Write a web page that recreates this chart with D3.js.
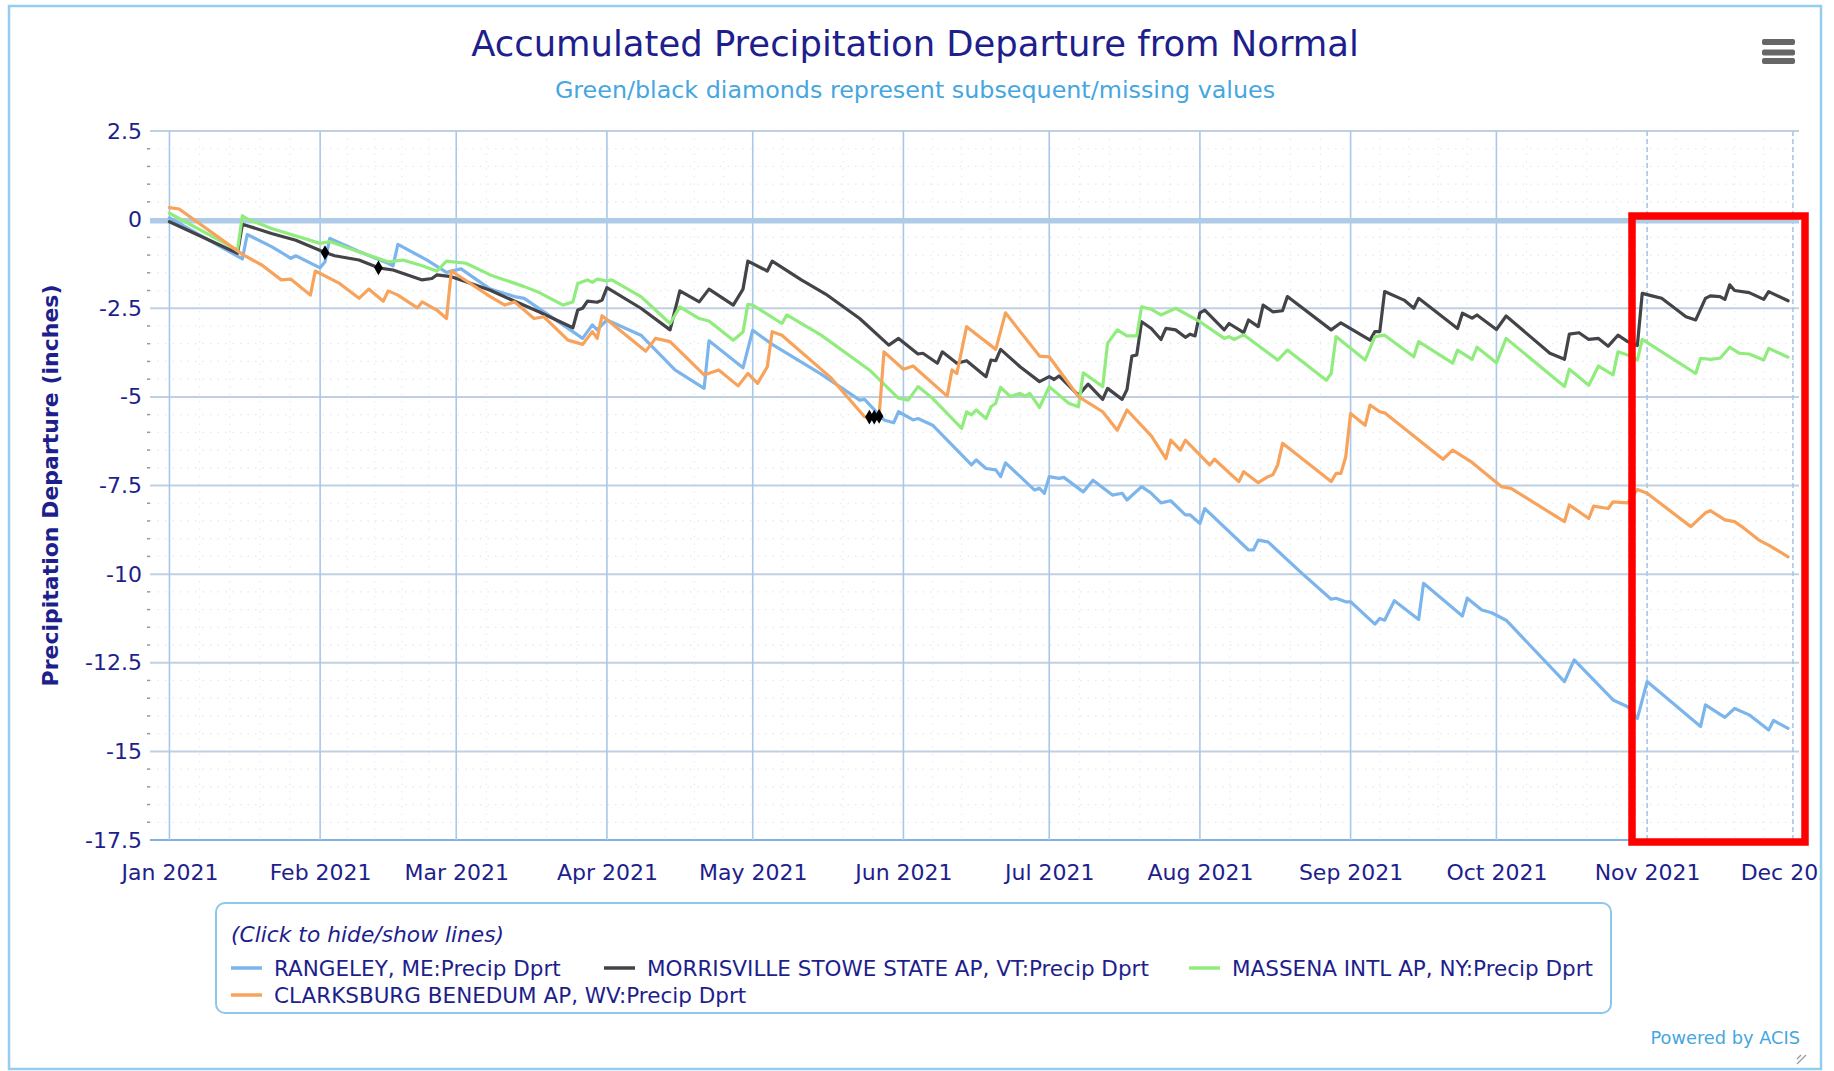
<!DOCTYPE html>
<html>
<head>
<meta charset="utf-8">
<script src="https://cdn.jsdelivr.net/npm/d3@7"></script>
<style>
  html, body { margin: 0; padding: 0; background: #fff; }
  svg { display: block; font-family: "DejaVu Sans", Verdana, sans-serif; }
</style>
</head>
<body>
<div id="chart"></div>
<script>
// day offsets from Jan 1 2021 and departure (inches)
const rangeley = [[0,0.05],[15,-1.11],[16,-0.42],[21,-0.76],[25,-1.09],[26,-1.02],[31,-1.36],[32,-1.19],[33,-0.53],[39,-0.9],[45,-1.23],[46,-1.3],[47,-0.7],[53,-1.14],[57,-1.49],[58,-1.45],[60,-1.39],[66,-1.96],[71,-2.17],[73,-2.22],[85,-3.35],[87,-2.97],[88,-3.11],[90,-2.83],[97,-3.26],[104,-4.24],[110,-4.76],[111,-3.42],[118,-4.18],[120,-3.12],[124,-3.52],[134,-4.35],[142,-5.09],[143,-5.07],[147,-5.65],[149,-5.73],[150,-5.42],[153,-5.65],[154,-5.61],[157,-5.8],[165,-6.92],[166,-6.78],[168,-7.02],[170,-7.06],[171,-7.25],[172,-6.86],[178,-7.63],[179,-7.58],[180,-7.72],[181,-7.25],[183,-7.3],[184,-7.27],[188,-7.68],[190,-7.35],[194,-7.77],[196,-7.72],[197,-7.91],[200,-7.53],[202,-7.72],[204,-7.99],[206,-7.93],[209,-8.33],[210,-8.33],[212,-8.57],[213,-8.15],[222,-9.32],[223,-9.32],[224,-9.04],[226,-9.09],[233,-9.98],[239,-10.71],[240,-10.68],[242,-10.78],[243,-10.78],[248,-11.41],[249,-11.25],[250,-11.3],[252,-10.75],[257,-11.28],[258,-10.26],[266,-11.18],[267,-10.68],[270,-11.01],[272,-11.09],[275,-11.3],[287,-13.03],[289,-12.42],[297,-13.55],[300,-13.74],[302,-14.07],[304,-13.03],[315,-14.3],[316,-13.69],[320,-14.04],[322,-13.79],[325,-13.97],[329,-14.4],[330,-14.13],[333,-14.35]];

const morrisville = [[0,-0.06],[14,-0.95],[15,-0.13],[21,-0.39],[26,-0.58],[32,-0.93],[34,-1.02],[39,-1.14],[43,-1.36],[46,-1.42],[52,-1.7],[54,-1.66],[55,-1.56],[58,-1.61],[61,-1.75],[66,-1.99],[70,-2.24],[76,-2.6],[83,-3.05],[84,-2.55],[85,-2.5],[86,-2.3],[88,-2.33],[89,-2.27],[90,-1.92],[97,-2.5],[103,-3.11],[105,-2.01],[109,-2.32],[111,-1.96],[116,-2.41],[118,-1.96],[119,-1.17],[123,-1.45],[124,-1.17],[130,-1.7],[135,-2.1],[141,-2.69],[142,-2.79],[148,-3.54],[150,-3.35],[154,-3.79],[155,-3.77],[158,-4.05],[159,-3.73],[162,-4.05],[164,-3.98],[168,-4.43],[169,-3.96],[170,-3.98],[171,-3.66],[175,-4.15],[179,-4.57],[181,-4.43],[182,-4.51],[183,-4.41],[187,-4.95],[189,-4.64],[192,-5.07],[193,-4.76],[196,-5.07],[197,-4.79],[198,-3.85],[199,-3.82],[200,-2.88],[202,-3.07],[204,-3.38],[205,-3.07],[207,-3.11],[209,-3.32],[210,-3.23],[211,-3.28],[212,-2.63],[213,-2.55],[217,-3.11],[218,-2.93],[221,-3.19],[222,-2.83],[224,-3.02],[225,-2.41],[227,-2.6],[229,-2.57],[230,-2.17],[239,-3.11],[241,-2.91],[247,-3.4],[248,-3.16],[249,-3.16],[250,-2.03],[254,-2.27],[256,-2.5],[257,-2.22],[265,-3.07],[266,-2.64],[268,-2.78],[269,-2.69],[273,-3.1],[275,-2.72],[284,-3.77],[287,-3.94],[288,-3.23],[290,-3.19],[292,-3.38],[294,-3.35],[296,-3.57],[298,-3.26],[300,-3.44],[302,-3.55],[303,-2.08],[305,-2.15],[307,-2.22],[312,-2.74],[314,-2.83],[316,-2.22],[317,-2.15],[319,-2.17],[320,-2.25],[321,-1.84],[322,-2.0],[325,-2.06],[328,-2.25],[329,-2.03],[333,-2.29]];

const massena = [[0,0.18],[14,-0.86],[15,0.11],[16,0.02],[21,-0.25],[31,-0.67],[33,-0.62],[39,-0.91],[45,-1.19],[48,-1.14],[52,-1.3],[55,-1.45],[57,-1.17],[61,-1.23],[66,-1.56],[69,-1.7],[73,-1.89],[76,-2.05],[81,-2.41],[83,-2.32],[84,-1.8],[86,-1.7],[87,-1.77],[88,-1.68],[90,-1.73],[91,-1.7],[97,-2.17],[103,-2.93],[105,-2.46],[109,-2.79],[111,-2.86],[116,-3.4],[118,-3.17],[119,-2.39],[120,-2.41],[126,-2.93],[127,-2.69],[134,-3.25],[144,-4.24],[150,-5.04],[152,-5.09],[154,-4.71],[157,-5.04],[163,-5.89],[164,-5.42],[165,-5.51],[166,-5.37],[168,-5.61],[169,-5.28],[170,-5.18],[171,-4.73],[173,-4.99],[175,-4.9],[176,-4.98],[177,-4.9],[179,-5.3],[181,-4.71],[185,-5.18],[187,-5.28],[188,-4.32],[192,-4.71],[193,-3.49],[195,-3.11],[197,-3.28],[199,-3.28],[200,-2.46],[202,-2.53],[204,-2.69],[207,-2.5],[212,-2.88],[217,-3.35],[218,-3.3],[219,-3.38],[221,-3.25],[228,-3.96],[230,-3.68],[238,-4.53],[239,-4.34],[240,-3.3],[246,-3.96],[248,-3.3],[250,-3.26],[256,-3.87],[257,-3.44],[264,-4.05],[265,-3.68],[268,-3.94],[269,-3.6],[273,-4.04],[275,-3.35],[287,-4.71],[288,-4.22],[292,-4.67],[294,-4.13],[297,-4.38],[298,-3.73],[300,-3.82],[302,-3.96],[303,-3.38],[314,-4.34],[315,-3.91],[317,-3.94],[319,-3.91],[321,-3.6],[323,-3.77],[325,-3.79],[328,-3.96],[329,-3.63],[333,-3.88]];

const clarksburg = [[0,0.34],[2,0.3],[15,-0.98],[19,-1.28],[23,-1.7],[25,-1.68],[29,-2.13],[30,-1.45],[35,-1.8],[39,-2.22],[41,-1.96],[44,-2.3],[45,-2.01],[47,-2.13],[51,-2.49],[52,-2.32],[55,-2.55],[57,-2.79],[58,-1.45],[66,-2.17],[69,-2.41],[71,-2.32],[75,-2.79],[77,-2.74],[82,-3.4],[85,-3.52],[87,-3.16],[88,-3.35],[89,-2.71],[98,-3.71],[100,-3.35],[103,-3.44],[110,-4.38],[113,-4.24],[117,-4.69],[119,-4.34],[121,-4.62],[123,-4.15],[124,-3.16],[126,-3.26],[136,-4.45],[143,-5.56],[144,-5.57],[145,-5.57],[146,-5.55],[147,-3.73],[151,-4.22],[153,-4.13],[160,-4.98],[161,-4.24],[162,-4.34],[164,-3.02],[170,-3.66],[172,-2.63],[179,-3.85],[181,-3.87],[187,-4.99],[192,-5.42],[195,-5.94],[197,-5.37],[202,-6.1],[205,-6.74],[206,-6.22],[208,-6.5],[209,-6.22],[214,-6.92],[215,-6.76],[220,-7.39],[221,-7.11],[224,-7.42],[226,-7.25],[227,-7.2],[228,-6.92],[229,-6.31],[239,-7.39],[240,-7.16],[241,-7.16],[242,-6.69],[243,-5.47],[246,-5.8],[247,-5.23],[249,-5.42],[250,-5.45],[262,-6.76],[264,-6.5],[268,-6.85],[274,-7.53],[276,-7.58],[287,-8.52],[288,-8.05],[292,-8.43],[293,-8.08],[296,-8.15],[297,-7.96],[300,-7.99],[302,-7.61],[304,-7.72],[313,-8.66],[316,-8.27],[317,-8.21],[320,-8.47],[322,-8.52],[324,-8.71],[327,-9.04],[329,-9.18],[333,-9.51]];

// black diamonds (missing values)
const missingMorrisville = [[32,-0.93],[43,-1.36]];
const missingClarksburg = [[144,-5.57],[145,-5.57],[146,-5.55]];

const yTicks = [2.5, 0, -2.5, -5, -7.5, -10, -12.5, -15, -17.5];
const monthLabels = ["Jan 2021","Feb 2021","Mar 2021","Apr 2021","May 2021","Jun 2021","Jul 2021","Aug 2021","Sep 2021","Oct 2021","Nov 2021","Dec 2021"];

const seriesList = [
  { name: "RANGELEY, ME:Precip Dprt", color: "#7cb5ec", data: rangeley },
  { name: "MORRISVILLE STOWE STATE AP, VT:Precip Dprt", color: "#434348", data: morrisville },
  { name: "MASSENA INTL AP, NY:Precip Dprt", color: "#90ed7d", data: massena },
  { name: "CLARKSBURG BENEDUM AP, WV:Precip Dprt", color: "#f7a35c", data: clarksburg }
];

const width = 1834, height = 1071;
const navy = "#1e1e8c";
const jan1 = new Date(2021, 0, 1);
const toDate = d => d3.timeDay.offset(jan1, d);

const svg = d3.select("#chart").append("svg")
    .attr("width", width)
    .attr("height", height);

svg.append("rect").attr("width", width).attr("height", height).attr("fill", "#fff");

// clip everything at the chart container edge
svg.append("clipPath").attr("id", "frame")
    .append("rect").attr("x", 9).attr("y", 6).attr("width", 1812).attr("height", 1063);
const root = svg.append("g").attr("clip-path", "url(#frame)");

// plot area
const plotLeft = 150, plotRight = 1799, plotTop = 131, plotBottom = 840;
const x = d3.scaleTime()
    .domain([new Date(2020, 11, 28), new Date(2021, 11, 2, 6)])
    .range([plotLeft, plotRight]);
const y = d3.scaleLinear()
    .domain([-17.5, 2.5])
    .range([plotBottom, plotTop]);

const months = monthLabels.map((m, i) => new Date(2021, i, 1));

// minor dotted grid
const minorY = d3.range(-17.5, 2.5, 0.5).filter(v => Math.abs(v % 2.5) > 0.01);
root.append("g").selectAll("line").data(minorY).join("line")
    .attr("x1", plotLeft).attr("x2", plotRight)
    .attr("y1", d => y(d)).attr("y2", d => y(d))
    .attr("stroke", "#e2e9f1").attr("stroke-width", 1.2)
    .attr("stroke-dasharray", "1.5,6");
const minorX = [];
months.forEach((m, i) => {
  const next = i < 11 ? months[i + 1] : new Date(2022, 0, 1);
  const span = (next - m) / 5;
  for (let k = 1; k < 5; k++) minorX.push(new Date(+m + span * k));
});
root.append("g").selectAll("line").data(minorX.filter(d => x(d) > plotLeft && x(d) < plotRight)).join("line")
    .attr("x1", d => x(d)).attr("x2", d => x(d))
    .attr("y1", plotTop).attr("y2", plotBottom)
    .attr("stroke", "#e6ecf3").attr("stroke-width", 1.2)
    .attr("stroke-dasharray", "1.5,6");

// y minor tick marks
root.append("g").selectAll("line").data(minorY).join("line")
    .attr("x1", plotLeft - 3).attr("x2", plotLeft)
    .attr("y1", d => y(d)).attr("y2", d => y(d))
    .attr("stroke", "#999").attr("stroke-width", 1.5);

// major horizontal grid
root.append("g").selectAll("line").data(yTicks).join("line")
    .attr("x1", plotLeft).attr("x2", plotRight)
    .attr("y1", d => y(d)).attr("y2", d => y(d))
    .attr("stroke", d => d === -17.5 ? "#7fb3e4" : "#bfd0e3")
    .attr("stroke-width", 2);

// month grid
root.append("g").selectAll("line").data(months).join("line")
    .attr("x1", d => x(d)).attr("x2", d => x(d))
    .attr("y1", plotTop).attr("y2", plotBottom)
    .attr("stroke", "#a9c7e8").attr("stroke-width", 1.6)
    .attr("stroke-dasharray", (d, i) => i >= 10 ? "5,3" : null);

// zero plot line
root.append("line")
    .attr("x1", plotLeft).attr("x2", plotRight)
    .attr("y1", y(0) + 1).attr("y2", y(0) + 1)
    .attr("stroke", "#aecbe8").attr("stroke-width", 5.5);

// axes
const yAxis = root.append("g")
    .attr("transform", `translate(${plotLeft},0)`)
    .call(d3.axisLeft(y).tickValues(yTicks).tickSize(0).tickPadding(8)
        .tickFormat(d => String(d)));
yAxis.select(".domain").remove();
yAxis.selectAll("text").attr("fill", navy).style("font-size", "22px")
    .attr("font-family", "DejaVu Sans, sans-serif");

const xAxis = root.append("g")
    .attr("transform", `translate(0,${plotBottom})`)
    .call(d3.axisBottom(x).tickValues(months).tickSize(0).tickPadding(24)
        .tickFormat((d, i) => monthLabels[i]));
xAxis.select(".domain").remove();
xAxis.selectAll("text").attr("fill", navy).style("font-size", "22px")
    .attr("font-family", "DejaVu Sans, sans-serif");

// y axis title
root.append("text")
    .attr("transform", `translate(58,${(plotTop + plotBottom) / 2}) rotate(-90)`)
    .attr("text-anchor", "middle")
    .attr("fill", navy)
    .attr("font-weight", "bold")
    .style("font-size", "22px")
    .text("Precipitation Departure (inches)");

// series lines
const line = d3.line()
    .x(d => x(toDate(d[0])))
    .y(d => y(d[1]));

const plot = root.append("g");
seriesList.forEach(s => {
  plot.append("path")
      .datum(s.data)
      .attr("d", line)
      .attr("fill", "none")
      .attr("stroke", s.color)
      .attr("stroke-width", 3.2)
      .attr("stroke-linejoin", "round")
      .attr("stroke-linecap", "round");
});

// missing-value diamonds
const diamond = d3.symbol().type(d3.symbolDiamond).size(64);
plot.append("g").selectAll("path")
    .data(missingMorrisville.concat(missingClarksburg))
    .join("path")
    .attr("d", diamond)
    .attr("transform", d => `translate(${x(toDate(d[0]))},${y(d[1])})`)
    .attr("fill", "#000");

// title & subtitle
root.append("text")
    .attr("x", 915).attr("y", 56)
    .attr("text-anchor", "middle")
    .attr("fill", navy)
    .style("font-size", "35.4px")
    .text("Accumulated Precipitation Departure from Normal");
root.append("text")
    .attr("x", 915).attr("y", 98)
    .attr("text-anchor", "middle")
    .attr("fill", "#45a6e0")
    .style("font-size", "23.8px")
    .text("Green/black diamonds represent subsequent/missing values");

// menu icon
root.append("g").selectAll("rect").data([39, 49.5, 58]).join("rect")
    .attr("x", 1762).attr("y", d => d)
    .attr("width", 33).attr("height", 6).attr("rx", 2)
    .attr("fill", "#666");

// legend
const legend = root.append("g");
legend.append("rect")
    .attr("x", 216).attr("y", 903)
    .attr("width", 1395).attr("height", 110)
    .attr("rx", 9)
    .attr("fill", "none")
    .attr("stroke", "#8cc7ec")
    .attr("stroke-width", 2);
legend.append("text")
    .attr("x", 231).attr("y", 942)
    .attr("fill", navy)
    .attr("font-style", "italic")
    .style("font-size", "21.8px")
    .text("(Click to hide/show lines)");
const legendPos = [[231, 968], [604, 968], [1189, 968], [231, 995]];
seriesList.forEach((s, i) => {
  const [lx, ly] = legendPos[i];
  legend.append("line")
      .attr("x1", lx).attr("x2", lx + 31)
      .attr("y1", ly).attr("y2", ly)
      .attr("stroke", s.color).attr("stroke-width", 3.5);
  legend.append("text")
      .attr("x", lx + 43).attr("y", ly + 7.5)
      .attr("fill", navy)
      .style("font-size", "21.5px")
      .text(s.name);
});

// credits
root.append("text")
    .attr("x", 1800).attr("y", 1044)
    .attr("text-anchor", "end")
    .attr("fill", "#45a6e0")
    .style("font-size", "17.8px")
    .text("Powered by ACIS");
root.append("g").selectAll("line").data([0, 5]).join("line")
    .attr("x1", k => 1806 - k).attr("y1", 1055)
    .attr("x2", 1797).attr("y2", k => 1064 - k)
    .attr("stroke", "#999").attr("stroke-width", 1.3);

// outer border
svg.append("rect")
    .attr("x", 9).attr("y", 6)
    .attr("width", 1812).attr("height", 1063)
    .attr("fill", "none")
    .attr("stroke", "#95cdee")
    .attr("stroke-width", 2.5);

// red highlight box
svg.append("rect")
    .attr("x", 1632).attr("y", 216)
    .attr("width", 1805 - 1632).attr("height", 842 - 216)
    .attr("fill", "none")
    .attr("stroke", "#ff0000")
    .attr("stroke-width", 7.5);
</script>
</body>
</html>
